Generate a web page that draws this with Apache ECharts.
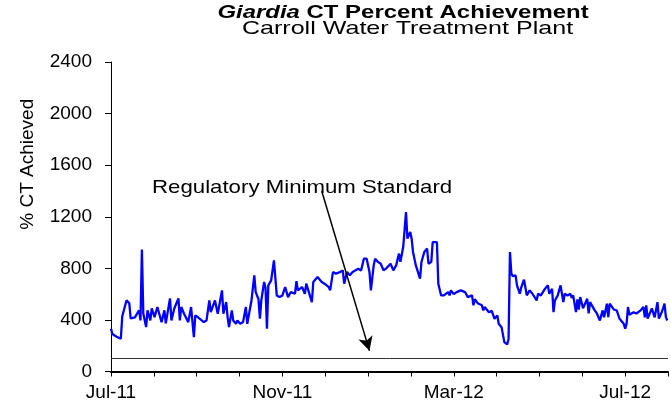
<!DOCTYPE html>
<html>
<head>
<meta charset="utf-8">
<script src="https://cdn.jsdelivr.net/npm/echarts@6/dist/echarts.min.js"></script>
<style>
html,body{margin:0;padding:0;background:#fff;}
#c{width:671px;height:411px;}
</style>
</head>
<body>
<div id="c"></div>
<script>
// ---- data ----
const dates = [
 '2011-07-01','2011-07-02','2011-07-05','2011-07-08','2011-07-09','2011-07-12','2011-07-14','2011-07-15','2011-07-18','2011-07-21','2011-07-22','2011-07-23','2011-07-24','2011-07-26','2011-07-27','2011-07-29','2011-07-30',
 '2011-08-01','2011-08-03','2011-08-06','2011-08-08','2011-08-09','2011-08-12','2011-08-13','2011-08-15','2011-08-18','2011-08-19','2011-08-20','2011-08-22','2011-08-25','2011-08-27','2011-08-29','2011-08-30',
 '2011-09-01','2011-09-02','2011-09-05','2011-09-07','2011-09-09','2011-09-10','2011-09-13','2011-09-15','2011-09-18','2011-09-19','2011-09-21','2011-09-22','2011-09-23','2011-09-25','2011-09-26','2011-09-27','2011-09-28','2011-09-29',
 '2011-10-01','2011-10-03','2011-10-05','2011-10-06','2011-10-09','2011-10-11','2011-10-12','2011-10-14','2011-10-15','2011-10-16','2011-10-18','2011-10-19','2011-10-20','2011-10-21','2011-10-23','2011-10-25','2011-10-27','2011-10-29','2011-10-31',
 '2011-11-02','2011-11-04','2011-11-06','2011-11-09','2011-11-10','2011-11-11','2011-11-14','2011-11-16','2011-11-17','2011-11-19','2011-11-21','2011-11-22','2011-11-25','2011-11-28','2011-11-30',
 '2011-12-03','2011-12-04','2011-12-06','2011-12-08','2011-12-11','2011-12-13','2011-12-14','2011-12-16','2011-12-18','2011-12-20','2011-12-24','2011-12-26','2011-12-28','2011-12-30',
 '2012-01-01','2012-01-02','2012-01-04','2012-01-05','2012-01-07','2012-01-09','2012-01-11','2012-01-13','2012-01-16','2012-01-18','2012-01-20','2012-01-22','2012-01-23','2012-01-25','2012-01-27','2012-01-28','2012-01-30','2012-01-31',
 '2012-02-01','2012-02-03','2012-02-06','2012-02-07','2012-02-08','2012-02-09','2012-02-11','2012-02-12','2012-02-14','2012-02-15','2012-02-18','2012-02-19','2012-02-20','2012-02-21','2012-02-23','2012-02-26','2012-02-27','2012-02-28',
 '2012-03-01','2012-03-03','2012-03-06','2012-03-09','2012-03-11','2012-03-14','2012-03-15','2012-03-16','2012-03-18','2012-03-19','2012-03-21','2012-03-22','2012-03-23','2012-03-26','2012-03-28','2012-03-30',
 '2012-04-01','2012-04-02','2012-04-03','2012-04-04','2012-04-05','2012-04-06','2012-04-08','2012-04-09','2012-04-10','2012-04-11','2012-04-12','2012-04-14','2012-04-15','2012-04-17','2012-04-18','2012-04-20','2012-04-22','2012-04-24','2012-04-26','2012-04-29','2012-04-30',
 '2012-05-02','2012-05-05','2012-05-07','2012-05-08','2012-05-10','2012-05-11','2012-05-12','2012-05-14','2012-05-16','2012-05-18','2012-05-19','2012-05-21','2012-05-23','2012-05-24','2012-05-25','2012-05-27','2012-05-28','2012-05-29','2012-05-30',
 '2012-06-01','2012-06-04','2012-06-05','2012-06-06','2012-06-09','2012-06-11','2012-06-12','2012-06-13','2012-06-15','2012-06-16','2012-06-18','2012-06-19','2012-06-20','2012-06-23','2012-06-25','2012-06-27','2012-06-30',
 '2012-07-01','2012-07-02','2012-07-03','2012-07-04','2012-07-07','2012-07-09','2012-07-12','2012-07-14','2012-07-15','2012-07-16','2012-07-17','2012-07-20','2012-07-22','2012-07-24','2012-07-25','2012-07-27','2012-07-28','2012-07-29','2012-07-30','2012-07-31'
];
const pctCT = [
 332,290,270,254,427,551,530,412,420,474,396,945,450,344,474,396,489,
 422,500,383,474,373,567,396,487,567,396,500,448,383,500,266,435,
 420,435,383,396,551,460,551,448,629,448,538,422,344,474,396,409,370,396,
 370,383,500,370,551,746,616,560,409,551,694,650,332,668,707,862,590,577,590,
 655,577,616,603,700,629,655,603,681,610,538,694,733,694,681,
 655,629,771,759,771,784,681,771,746,771,797,784,875,875,
 771,629,823,875,850,836,784,800,836,784,823,914,850,965,1237,1030,1082,1030,
 927,823,720,849,836,927,953,836,850,1004,1004,681,670,590,590,616,590,629,
 600,616,629,616,577,590,513,560,530,540,513,474,500,460,470,409,
 435,370,383,344,357,228,210,250,927,759,740,746,668,603,650,712,590,629,603,551,603,
 590,642,668,603,642,460,551,590,668,538,603,590,603,570,590,460,560,480,577,
 490,564,450,538,480,448,420,396,474,420,526,422,526,480,474,409,370,
 332,370,500,440,460,450,474,500,420,513,410,490,420,538,410,460,490,526,422,396
];
const tickLabels = ['Jul-11', 'Nov-11', 'Mar-12', 'Jul-12'];
const regulatoryMinimum = 100;
const arrowFrom = { date: '2011-11-28', value: 1400 };
const arrowTo = { date: '2012-01-01', value: 160 };
const startDate = '2011-07-01';

// ---- helpers ----
const DAY = 86400000;
const t0 = Date.parse(startDate);
const dayOf = s => (Date.parse(s) - t0) / DAY;
const MONTH = 30.5;           // monthly tick spacing in days
const FONT = '"Liberation Sans", Arial, Helvetica, sans-serif';
const points = dates.map((d, i) => [dayOf(d), pctCT[i]]);

const chart = echarts.init(document.getElementById('c'), null, { renderer: 'canvas' });
chart.setOption({
  animation: false,
  backgroundColor: '#ffffff',
  textStyle: { fontFamily: FONT },
  grid: { left: 111, right: 1, top: 62, bottom: 39.5, containLabel: false },
  xAxis: {
    type: 'value', min: 0, max: 13 * MONTH, interval: MONTH,
    axisLine: { show: true, onZero: false, lineStyle: { color: '#000', width: 2 } },
    axisTick: { show: true, length: 5, lineStyle: { color: '#000', width: 1 } },
    axisLabel: {
      margin: 12, fontSize: 19, color: '#000', fontFamily: FONT,
      formatter: v => {
        const k = Math.round(v / MONTH);
        return (Math.abs(v - k * MONTH) < 1e-6 && k % 4 === 0) ? (tickLabels[k / 4] || '') : '';
      }
    },
    splitLine: { show: false }
  },
  yAxis: {
    type: 'value', min: 0, max: 2400, interval: 400,
    name: '% CT Achieved', nameLocation: 'middle', nameGap: 74, nameRotate: 90,
    nameTextStyle: { fontSize: 19, color: '#000', fontFamily: FONT, padding: [0, 0, 0, 105] },
    axisLine: { show: true, lineStyle: { color: '#000', width: 1 } },
    axisTick: { show: true, length: 6, lineStyle: { color: '#000', width: 1 } },
    axisLabel: { margin: 19, fontSize: 19, color: '#000', fontFamily: FONT, formatter: v => String(v) },
    splitLine: { show: false }
  },
  series: [{
    type: 'line',
    name: '% CT Achieved',
    data: points,
    showSymbol: false,
    symbol: 'none',
    lineStyle: { color: '#0000FF', width: 2.3 },
    silent: true,
    markLine: {
      silent: true,
      animation: false,
      symbol: ['none', 'none'],
      label: { show: false },
      emphasis: { disabled: true },
      data: [
        { yAxis: regulatoryMinimum, lineStyle: { color: '#333', width: 1, type: 'solid' } },
        [
          { coord: [dayOf(arrowFrom.date), arrowFrom.value], symbol: 'none', lineStyle: { color: '#000', width: 1.5, type: 'solid' } },
          { coord: [dayOf(arrowTo.date), arrowTo.value], symbol: 'arrow', symbolSize: [11, 14], lineStyle: { color: '#000', width: 1.5, type: 'solid' } }
        ]
      ]
    }
  }],
  graphic: [
    {
      type: 'text', x: 403, y: 12.5, scaleX: 1.26, silent: true,
      style: {
        text: '{it|Giardia} CT Percent Achievement',
        fontSize: 19, fontWeight: 'bold', fontFamily: FONT, fill: '#000',
        align: 'center', verticalAlign: 'middle', textAlign: 'center', textVerticalAlign: 'middle',
        rich: { it: { fontStyle: 'italic', fontWeight: 'bold', fontSize: 19, fontFamily: FONT, fill: '#000' } }
      }
    },
    {
      type: 'text', x: 407.5, y: 28.5, scaleX: 1.32, silent: true,
      style: {
        text: 'Carroll Water Treatment Plant',
        fontSize: 19, fontFamily: FONT, fill: '#000',
        align: 'center', verticalAlign: 'middle', textAlign: 'center', textVerticalAlign: 'middle'
      }
    },
    {
      type: 'text', x: 152, y: 187.5, scaleX: 1.17, silent: true,
      style: {
        text: 'Regulatory Minimum Standard',
        fontSize: 19, fontFamily: FONT, fill: '#000',
        align: 'left', verticalAlign: 'middle', textAlign: 'left', textVerticalAlign: 'middle'
      }
    }
  ]
});
</script>
</body>
</html>
